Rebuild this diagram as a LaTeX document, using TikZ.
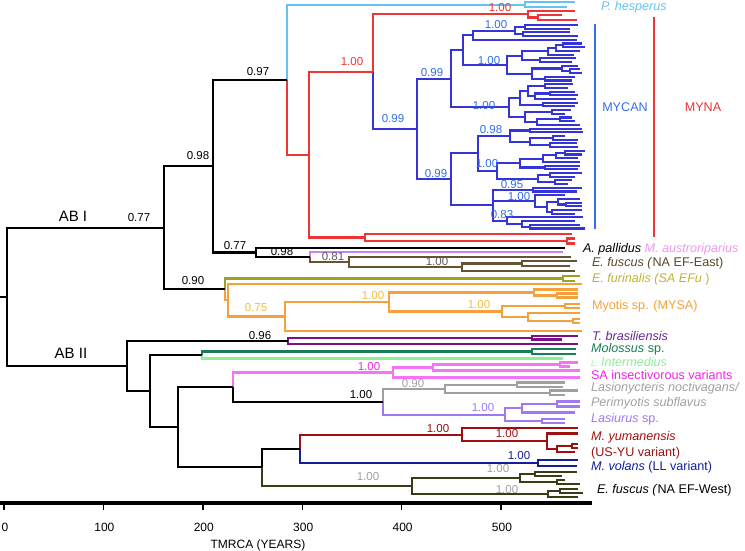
\documentclass[tikz,border=0pt]{standalone}
\usepackage{fontspec}
\setmainfont{Liberation Sans}
\usetikzlibrary{calc}
\definecolor{clb}{RGB}{100,195,240}
\definecolor{cred}{RGB}{238,52,52}
\definecolor{cblu}{RGB}{52,52,218}
\definecolor{cblut}{RGB}{50,110,232}
\definecolor{cviol}{RGB}{200,130,245}
\definecolor{cpink}{RGB}{240,150,240}
\definecolor{cbrown}{RGB}{100,85,50}
\definecolor{cbrownt}{RGB}{90,70,40}
\definecolor{colive}{RGB}{160,160,35}
\definecolor{colivet}{RGB}{190,180,45}
\definecolor{corange}{RGB}{245,160,60}
\definecolor{corangel}{RGB}{240,190,60}
\definecolor{cpurple}{RGB}{125,15,135}
\definecolor{cpurplet}{RGB}{100,40,150}
\definecolor{cteal}{RGB}{25,125,85}
\definecolor{clgreen}{RGB}{140,238,150}
\definecolor{cmag}{RGB}{245,115,245}
\definecolor{cmagt}{RGB}{235,40,225}
\definecolor{cgrey}{RGB}{160,160,160}
\definecolor{cgreyd}{RGB}{90,90,90}
\definecolor{clav}{RGB}{160,120,240}
\definecolor{cdred}{RGB}{160,15,15}
\definecolor{cnavy}{RGB}{20,30,150}
\definecolor{cdolive}{RGB}{60,60,20}
\newcommand\mytip[3]{\coordinate (#1) at (#2,#3);}
\newcommand\Nd[6]{\path let \p1=($(#3)!.5!(#4)$) in coordinate (#1) at (#2pt,\y1);
  \draw[#5] (#1) |- (#3); \draw[#6] (#1) |- (#4);}
\tikzset{
  supp/.style={font=\fontsize{11.5}{13}\selectfont, inner sep=0pt},
  tax/.style={font=\fontsize{12.6}{14}\selectfont, inner sep=0pt, anchor=west},
  axlab/.style={font=\fontsize{12}{14}\selectfont, inner sep=0pt},
  ablab/.style={font=\fontsize{15}{17}\selectfont, inner sep=0pt},
}
\begin{document}
\begin{tikzpicture}[x=1pt,y=-1pt,line width=2.1pt]
\useasboundingbox (0,0) rectangle (745,550);
% ---------------- MYCAN tips
\mytip{s0}{578}{25.0}\mytip{s1}{570}{28.7}\mytip{s2}{570}{32.4}\mytip{s3}{578}{36.1}\mytip{s4}{577}{39.8}
\mytip{s5}{582}{43.5}\mytip{s6}{585}{47.2}\mytip{s7}{580}{50.9}\mytip{s8}{574}{54.6}\mytip{s9}{576}{58.3}
\mytip{s10}{572}{62.0}\mytip{s11}{578}{65.7}\mytip{s12}{580}{69.4}\mytip{s13}{582}{73.1}\mytip{s14}{575}{76.8}
\mytip{s15}{572}{80.5}\mytip{s16}{573}{84.2}\mytip{s17}{568}{87.9}\mytip{s18}{575}{91.6}\mytip{s19}{578}{95.3}
\mytip{s20}{576}{99.0}\mytip{s21}{578}{102.7}\mytip{s22}{575}{106.4}\mytip{s23}{571}{110.1}\mytip{s24}{565}{113.8}
\mytip{s25}{572}{117.5}\mytip{s26}{575}{121.2}\mytip{s27}{580}{124.9}\mytip{s28}{582}{128.6}\mytip{s29}{583}{132.3}
\mytip{s30}{565}{136.0}\mytip{s31}{578}{139.7}\mytip{s32}{577}{143.4}\mytip{s33}{578}{147.1}\mytip{s34}{585}{150.8}
\mytip{s35}{582}{154.5}\mytip{s36}{578}{158.2}\mytip{s37}{580}{161.9}\mytip{s38}{580}{165.6}\mytip{s39}{578}{169.3}
\mytip{s40}{582}{173.0}\mytip{s41}{575}{176.7}\mytip{s42}{572}{180.4}\mytip{s43}{568}{184.1}\mytip{s44}{582}{187.8}
\mytip{s45}{577}{191.5}\mytip{s46}{565}{195.2}\mytip{s47}{580}{198.9}\mytip{s48}{582}{202.6}\mytip{s49}{582}{206.3}
\mytip{s50}{582}{210.0}\mytip{s51}{575}{213.7}\mytip{s52}{583}{217.4}\mytip{s53}{575}{221.1}\mytip{s54}{580}{224.8}
\mytip{s55}{585}{228.5}
% MYCAN internal nodes
\Nd{P1a}{525}{s0}{s1}{cblu}{cblu}
\Nd{P1c}{523}{s2}{s3}{cblu}{cblu}
\Nd{P1}{515}{P1a}{P1c}{cblu}{cblu}
\Nd{M2a1}{473}{P1}{s4}{cblu}{cblu}
\Nd{Q1c}{563}{s5}{s6}{cblu}{cblu}
\Nd{Q1b}{556}{Q1c}{s7}{cblu}{cblu}
\Nd{Q1a}{548}{Q1b}{s8}{cblu}{cblu}
\Nd{Q1d}{540}{s9}{s10}{cblu}{cblu}
\Nd{Q1}{522}{Q1a}{Q1d}{cblu}{cblu}
\Nd{Q2c}{570}{s12}{s13}{cblu}{cblu}
\Nd{Q2a}{562}{s11}{Q2c}{cblu}{cblu}
\Nd{Q2d}{545}{s14}{s15}{cblu}{cblu}
\Nd{Q2}{532}{Q2a}{Q2d}{cblu}{cblu}
\Nd{M2a2}{507}{Q1}{Q2}{cblu}{cblu}
\Nd{M2a}{463}{M2a1}{M2a2}{cblu}{cblu}
\Nd{Ra1}{545}{s16}{s17}{cblu}{cblu}
\Nd{Ra3}{550}{s18}{s19}{cblu}{cblu}
\Nd{Ra2}{535}{Ra3}{s20}{cblu}{cblu}
\Nd{Ra}{528}{Ra1}{Ra2}{cblu}{cblu}
\Nd{Rc}{543}{s21}{s22}{cblu}{cblu}
\Nd{Rtop}{520}{Ra}{Rc}{cblu}{cblu}
\Nd{Rd}{552}{s23}{s24}{cblu}{cblu}
\Nd{Rf}{560}{s25}{s26}{cblu}{cblu}
\Nd{Re}{537}{Rf}{s27}{cblu}{cblu}
\Nd{Rbot}{525}{Rd}{Re}{cblu}{cblu}
\Nd{M2b}{509}{Rtop}{Rbot}{cblu}{cblu}
\Nd{M2}{451}{M2a}{M2b}{cblu}{cblu}
\Nd{S1}{530}{s28}{s29}{cblu}{cblu}
\Nd{S3}{553}{s30}{s31}{cblu}{cblu}
\Nd{S4}{550}{s32}{s33}{cblu}{cblu}
\Nd{S2}{530}{S3}{S4}{cblu}{cblu}
\Nd{M3a1}{510}{S1}{S2}{cblu}{cblu}
\Nd{U1b}{565}{s34}{s35}{cblu}{cblu}
\Nd{U1c}{556}{U1b}{s36}{cblu}{cblu}
\Nd{U1a}{543}{U1c}{s37}{cblu}{cblu}
\Nd{U1d}{545}{s38}{s39}{cblu}{cblu}
\Nd{U1}{520}{U1a}{U1d}{cblu}{cblu}
\Nd{U2a}{550}{s40}{s41}{cblu}{cblu}
\Nd{U2b}{555}{s42}{s43}{cblu}{cblu}
\Nd{U2}{538}{U2a}{U2b}{cblu}{cblu}
\Nd{M3a2}{497}{U1}{U2}{cblu}{cblu}
\Nd{M3a}{478}{M3a1}{M3a2}{cblu}{cblu}
\Nd{V1}{533}{s44}{s45}{cblu}{cblu}
\Nd{V2c}{566}{s48}{s49}{cblu}{cblu}
\Nd{V2b}{558}{s47}{V2c}{cblu}{cblu}
\Nd{V2d}{552}{s50}{s51}{cblu}{cblu}
\Nd{V2a}{547}{V2b}{V2d}{cblu}{cblu}
\Nd{V2}{535}{s46}{V2a}{cblu}{cblu}
\Nd{V3c}{530}{s54}{s55}{cblu}{cblu}
\Nd{V3a}{522}{s53}{V3c}{cblu}{cblu}
\Nd{V3}{507}{s52}{V3a}{cblu}{cblu}
\Nd{M3b}{493}{V1}{V3}{cblu}{cblu}
\draw[cblu] (M3b) |- (V2);
\Nd{M3}{451}{M3a}{M3b}{cblu}{cblu}
\Nd{M1}{417}{M2}{M3}{cblu}{cblu}
% ---------------- MYNA red
\mytip{rt1}{575}{11}\mytip{rt2}{562}{15}\mytip{rt3}{577}{20}
\Nd{RD}{538}{rt2}{rt3}{cred}{cred}
\Nd{RC}{528}{rt1}{RD}{cred}{cred}
\Nd{RB}{373}{RC}{M1}{cred}{cblu}
\mytip{rb1}{572}{234}\mytip{rb2}{575}{238.5}\mytip{rb3}{575}{243.5}
\Nd{R2}{567}{rb2}{rb3}{cred}{cred}
\Nd{R1}{365}{rb1}{R2}{cred}{cred}
\Nd{RA}{309}{RB}{R1}{cred}{cred}
% P. hesperus
\mytip{lbt1}{575}{2.4}\mytip{lbt2}{567}{7}
\Nd{LB}{525}{lbt1}{lbt2}{clb}{clb}
\Nd{N287}{287}{LB}{RA}{clb}{cred}
% A. pallidus / austroriparius / E. fuscus East
\mytip{ap}{565}{248}\mytip{au}{563}{252}
\mytip{bt1}{571}{257}\mytip{bt2}{577}{261}\mytip{bt3}{570}{266}\mytip{bt4}{575}{271}
\Nd{N522}{522}{bt2}{bt3}{cbrown}{cbrown}
\Nd{N462}{462}{N522}{bt4}{cbrown}{cbrown}
\Nd{N349}{349}{bt1}{N462}{cbrown}{cbrown}
\Nd{N310}{310}{au}{N349}{cviol}{cbrown}
\Nd{N256}{256}{ap}{N310}{black}{black}
\Nd{N213}{213}{N287}{N256}{black}{black}
% E. furinalis and Myotis
\mytip{ot1}{580}{276}\mytip{ot2}{575}{281}
\Nd{OL}{563}{ot1}{ot2}{colive}{colive}
\mytip{or1}{582}{284}\mytip{oa1}{578}{289.5}\mytip{oa2}{578}{293.5}\mytip{oa3}{578}{297.5}
\Nd{N557}{557}{oa2}{oa3}{corange}{corange}
\Nd{N534}{534}{oa1}{N557}{corange}{corange}
\mytip{ob1}{580}{304}\mytip{ob2}{580}{308}
\Nd{N565}{565}{ob1}{ob2}{corange}{corange}
\mytip{oc1}{580}{313}\mytip{oc2}{580}{319}\mytip{oc3}{580}{323}
\Nd{N573}{573}{oc2}{oc3}{corange}{corange}
\Nd{N528}{528}{oc1}{N573}{corange}{corange}
\Nd{N502}{502}{N565}{N528}{corange}{corange}
\Nd{N389}{389}{N534}{N502}{corange}{corange}
\mytip{or2}{582}{331}
\Nd{N285}{285}{N389}{or2}{corange}{corange}
\Nd{N228}{228}{or1}{N285}{corange}{corange}
\Nd{N225}{225}{OL}{N228}{colive}{corange}
\Nd{N164}{164}{N213}{N225}{black}{black}
% T. brasiliensis
\mytip{pt1}{578}{336}\mytip{pt2}{562}{339.5}\mytip{pt3}{578}{344}
\Nd{PN}{532}{pt1}{pt2}{cpurple}{cpurple}
\Nd{N288}{288}{PN}{pt3}{cpurple}{cpurple}
% Molossus, L. intermedius
\mytip{tt1}{576}{349}\mytip{tt2}{576}{354}\mytip{lg}{563}{358.5}
\Nd{TN}{532}{tt1}{tt2}{cteal}{cteal}
\Nd{N202}{202}{TN}{lg}{cteal}{clgreen}
% SA insectivorous
\mytip{mt1}{578}{362.5}\mytip{mt2}{570}{366.5}\mytip{mt3}{580}{370.5}\mytip{mt4}{580}{377.5}
\Nd{MG3}{560}{mt1}{mt2}{cmag}{cmag}
\Nd{MG2}{433}{MG3}{mt3}{cmag}{cmag}
\Nd{MG1}{393}{MG2}{mt4}{cmag}{cmag}
% Lasionycteris / Perimyotis
\mytip{gt1}{565}{382.5}\mytip{gt2}{563}{387}\mytip{gt3}{578}{390.5}\mytip{gt4}{565}{395}
\Nd{G2}{517}{gt1}{gt2}{cgrey}{cgrey}
\Nd{G3}{550}{gt3}{gt4}{cgrey}{cgrey}
\Nd{G1}{445}{G2}{G3}{cgrey}{cgrey}
% Lasiurus
\mytip{lt1}{580}{401.5}\mytip{lt2}{580}{406.5}\mytip{lt3}{575}{412.5}\mytip{lt4}{565}{419}\mytip{lt5}{565}{423}
\Nd{L3}{557}{lt1}{lt2}{clav}{clav}
\Nd{L2}{522}{L3}{lt3}{clav}{clav}
\Nd{L4}{542}{lt4}{lt5}{clav}{clav}
\Nd{L1}{505}{L2}{L4}{clav}{clav}
\Nd{N383}{383}{G1}{L1}{cgrey}{clav}
\Nd{N233}{233}{MG1}{N383}{cmag}{black}
% M. yumanensis
\mytip{dt1}{578}{428}\mytip{dt2}{578}{433.5}\mytip{dt3}{578}{444}\mytip{dt4}{578}{448}\mytip{dt5}{575}{452}
\Nd{DR4}{572}{dt3}{dt4}{cdred}{cdred}
\Nd{DR3}{557}{DR4}{dt5}{cdred}{cdred}
\Nd{DR2}{547}{dt2}{DR3}{cdred}{cdred}
\Nd{DR1}{462}{dt1}{DR2}{cdred}{cdred}
% M. volans
\mytip{nt1}{578}{460}\mytip{nt2}{577}{466}
\Nd{NV}{538}{nt1}{nt2}{cnavy}{cnavy}
\Nd{N300}{300}{DR1}{NV}{cdred}{cnavy}
% E. fuscus West
\mytip{wt1}{577}{472}\mytip{wt2}{562}{476}\mytip{wt3}{565}{480}\mytip{wt4}{580}{484}
\mytip{wt5}{578}{489}\mytip{wt6}{583}{493}\mytip{wt7}{578}{497}
\Nd{W1a}{535}{wt1}{wt2}{cdolive}{cdolive}
\Nd{W1b}{557}{wt3}{wt4}{cdolive}{cdolive}
\Nd{W1}{520}{W1a}{W1b}{cdolive}{cdolive}
\Nd{W2a}{560}{wt5}{wt6}{cdolive}{cdolive}
\Nd{W2}{548}{W2a}{wt7}{cdolive}{cdolive}
\Nd{N411}{412}{W1}{W2}{cdolive}{cdolive}
\Nd{N262}{262}{N300}{N411}{black}{cdolive}
\Nd{N178}{178}{N233}{N262}{black}{black}
\Nd{N150}{150}{N202}{N178}{black}{black}
\Nd{N127}{127}{N288}{N150}{black}{black}
\Nd{root}{7}{N164}{N127}{black}{black}
\path let \p1=(root) in coordinate (stub) at (0pt,\y1);
\draw (stub) -- (root);
% ---------------- clade bars
\coordinate (mycA) at (595,24); \coordinate (mycB) at (595,229);
\coordinate (mynA) at (654,17); \coordinate (mynB) at (654,237);
\draw[cblut,line width=1.4pt] (mycA) -- (mycB);
\draw[cred,line width=1.4pt] (mynA) -- (mynB);
\node[tax,anchor=center,text=cblut] (tmycan) at (625,107) {MYCAN};
\node[tax,anchor=center,text=cred] (tmyna) at (703,107) {MYNA};
% ---------------- support values
\node[supp,text=cred] (k1) at (500,8) {1.00};
\node[supp,text=cred] (k2) at (352,62) {1.00};
\node[supp,text=cblut] (k3) at (496,25) {1.00};
\node[supp,text=cblut] (k4) at (432,73) {0.99};
\node[supp,text=cblut] (k5) at (489,61) {1.00};
\node[supp,text=cblut] (k6) at (393,119) {0.99};
\node[supp,text=cblut] (k7) at (484,106) {1.00};
\node[supp,text=cblut] (k8) at (491,130) {0.98};
\node[supp,text=cblut] (k9) at (436,174) {0.99};
\node[supp,text=cblut] (k10) at (487,164) {1.00};
\node[supp,text=cblut] (k11) at (512,185) {0.95};
\node[supp,text=cblut] (k12) at (519,197) {1.00};
\node[supp,text=cblut] (k13) at (502,215) {0.83};
\node[supp] (k14) at (258,72) {0.97};
\node[supp] (k15) at (198,156) {0.98};
\node[supp] (k16) at (139,218) {0.77};
\node[supp] (k17) at (235,246) {0.77};
\node[supp] (k18) at (282,252) {0.98};
\node[supp,text=cgreyd] (k19) at (333,257) {0.81};
\node[supp,text=cgreyd] (k20) at (437,262) {1.00};
\node[supp] (k21) at (193,281) {0.90};
\node[supp,text=corangel] (k22) at (256,308) {0.75};
\node[supp,text=corangel] (k23) at (373,296) {1.00};
\node[supp,text=corangel] (k24) at (479,305) {1.00};
\node[supp] (k25) at (260,336) {0.96};
\node[supp,text=cmagt] (k26) at (369,367) {1.00};
\node[supp,text=cgrey] (k27) at (413,384) {0.90};
\node[supp] (k28) at (361,395) {1.00};
\node[supp,text=clav] (k29) at (483,408) {1.00};
\node[supp,text=cdred] (k30) at (438,429) {1.00};
\node[supp,text=cdred] (k31) at (507,434) {1.00};
\node[supp,text=cnavy] (k32) at (519,456) {1.00};
\node[supp,text=cgrey] (k33) at (498,469) {1.00};
\node[supp,text=cgrey] (k34) at (368,477) {1.00};
\node[supp,text=cgrey] (k35) at (507,490) {1.00};
\node[ablab] (ab1) at (73,216) {AB I};
\node[ablab] (ab2) at (71,353) {AB II};
% ---------------- taxon labels
\node[tax,text=clb] (x1) at (600,7) {\textit{P. hesperus}};
\node[tax] (x2) at (582,249) {\textit{A. pallidus} \textcolor{cpink}{\textit{M. austroriparius}}};
\node[tax,text=cbrownt] (x3) at (591,263) {\textit{E. fuscus (}NA EF-East)};
\node[tax,text=colivet] (x4) at (591,279) {\textit{E. furinalis (SA EFu })};
\node[tax,text=corange] (x5) at (591,306) {Myotis sp. (MYSA)};
\node[tax,text=cpurplet] (x6) at (591,335.5) {\textit{T. brasiliensis}};
\node[tax,text=cteal] (x7) at (590,349) {\textit{Molossus} sp.};
\node[tax,text=clgreen] (x8) at (590,362) {\textit{{\fontsize{8}{8}\selectfont L.} Intermedius}};
\node[tax,text=cmagt] (x9) at (590,375) {SA insectivorous variants};
\node[tax,text=cgrey] (x10) at (590,388) {\textit{Lasionycteris noctivagans/}};
\node[tax,text=cgrey] (x11) at (590,403) {\textit{Perimyotis subflavus}};
\node[tax,text=clav] (x12) at (590,419) {\textit{Lasiurus} sp.};
\node[tax,text=cdred] (x13) at (590,437) {\textit{M. yumanensis}};
\node[tax,text=cdred] (x14) at (590,453) {(US-YU variant)};
\node[tax,text=cnavy] (x15) at (590,467) {\textit{M. volans} (LL variant)};
\node[tax] (x16) at (596,490) {\textit{E. fuscus (}NA EF-West)};
% ---------------- axis
\coordinate (axA) at (0,503); \coordinate (axB) at (592,503);
\draw[line width=3.8pt] (axA) -- (axB);
\foreach \v [count=\i from 0] in {0,100,200,300,400,500} {
  \coordinate (tk\i) at ({4+0.994*\v},503);
  \coordinate (tke\i) at ({4+0.994*\v},510);
  \draw[line width=1.4pt] (tk\i) -- (tke\i);
  \node[axlab] (tl\i) at ({5+0.994*\v},527) {\v};
}
\node[axlab] (axt) at (258,545) {TMRCA (YEARS)};
\end{tikzpicture}
\end{document}
